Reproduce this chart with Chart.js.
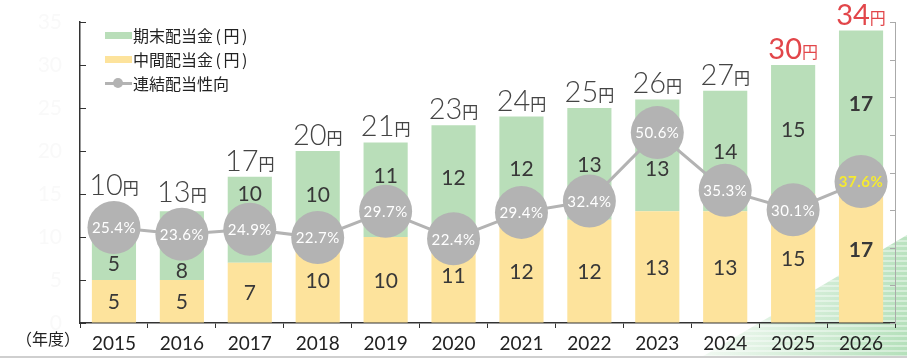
<!DOCTYPE html>
<html>
<head>
<meta charset="utf-8">
<script src="https://cdn.jsdelivr.net/npm/chart.js@4"></script>
<style>
  body { margin: 0; background: #fff; }
  #wrap { position: relative; width: 907px; height: 358px; overflow: hidden; font-family: 'Lato', 'Noto Sans CJK JP', sans-serif; }
  /* green stripe decoration bottom right */
  #deco { position: absolute; left: 0; top: 0; width: 907px; height: 358px;
    clip-path: polygon(700px 358px, 907px 358px, 907px 235px);
    background: repeating-linear-gradient(180deg, rgba(255,255,255,0.4) 0 2px, rgba(255,255,255,0) 2px 5px),
                linear-gradient(100deg, rgba(210,238,214,0) 0%, rgba(210,238,214,0) 74%, #b4e0ba 100%); }
  #bottomline { position: absolute; left: 0; bottom: 0; width: 907px; height: 2px; background: #cfcfcf; }
  canvas { position: absolute; left: 0; top: 0; }
  .legend { position: absolute; left: 105px; top: 23px; font-size: 16px; color: #222; font-family: 'Noto Sans CJK JP', sans-serif; }
  .legend div { height: 24px; display: flex; align-items: center; }
  .legend .p { margin: 0 2.5px; }
  .legend .box { width: 27px; height: 7px; margin-right: 1px; }
  .legend .ln { position: relative; width: 27px; height: 3px; background: #b3b3b3; margin-right: 1px; }
  .legend .ln::after { content: ''; position: absolute; left: 8px; top: -3.5px; width: 10px; height: 10px; border-radius: 50%; background: #b3b3b3; }
  .unit { position: absolute; left: 16px; top: 326px; font-size: 16px; color: #222; font-family: 'Noto Sans CJK JP', sans-serif; }
</style>
</head>
<body>
<div id="wrap">
  <div id="deco"></div>
  <div id="bottomline"></div>
  <canvas id="chart" width="907" height="358"></canvas>
  <div class="legend">
    <div><span class="box" style="background:#b9deb9"></span>期末配当金<span class="p">(</span>円<span class="p">)</span></div>
    <div><span class="box" style="background:#fde39c"></span>中間配当金<span class="p">(</span>円<span class="p">)</span></div>
    <div><span class="ln"></span>連結配当性向</div>
  </div>
  <div class="unit">（年度）</div>
</div>
<script>
// fiscal years
const years = ['2015', '2016', '2017', '2018', '2019', '2020', '2021', '2022', '2023', '2024', '2025', '2026'];
// interim dividend (yen)
const interim = [5, 5, 7, 10, 10, 11, 12, 12, 13, 13, 15, 17];
// year-end dividend (yen)
const yearEnd = [5, 8, 10, 10, 11, 12, 12, 13, 13, 14, 15, 17];
// consolidated payout ratio (%)
const payout = [25.4, 23.6, 24.9, 22.7, 29.7, 22.4, 29.4, 32.4, 50.6, 35.3, 30.1, 37.6];
// forecast years get the red total label
const forecast = ['2025', '2026'];

const GREEN = '#b9deb9';
const YELLOW = '#fde39c';
const GRAY = '#b3b3b3';
const R = 26.5;
const f = (s, w) => (w || '300') + ' ' + s + 'px Lato, "Noto Sans CJK JP"';

const labelPlugin = {
  id: 'labels',
  afterDraw(chart) {
    const ctx = chart.ctx;
    const y = chart.scales.y;
    const y1 = chart.scales.y1;
    const area = chart.chartArea;

    // inward tick marks on both y axes
    ctx.save();
    ctx.strokeStyle = '#333';
    ctx.lineWidth = 1;
    y.ticks.forEach(t => {
      const py = Math.round(y.getPixelForValue(t.value)) + 0.5;
      ctx.beginPath(); ctx.moveTo(area.left, py); ctx.lineTo(area.left + 6, py); ctx.stroke();
    });
    ctx.strokeStyle = '#aaa';
    y1.ticks.forEach(t => {
      const py = Math.round(y1.getPixelForValue(t.value)) + 0.5;
      ctx.beginPath(); ctx.moveTo(area.right - 5, py); ctx.lineTo(area.right, py); ctx.stroke();
    });

    const metaY = chart.getDatasetMeta(0);
    const metaG = chart.getDatasetMeta(1);
    const metaL = chart.getDatasetMeta(2);

    ctx.textAlign = 'center';
    ctx.textBaseline = 'middle';
    years.forEach((yr, i) => {
      const cx = metaY.data[i].x;
      const cy = metaL.data[i].y;
      const bold = i === years.length - 1;
      ctx.fillStyle = '#383838';
      ctx.font = f(21, bold ? 'bold' : '400');

      // segment labels, moved clear of the payout circle if needed
      const segs = [[metaY.data[i], interim[i]], [metaG.data[i], yearEnd[i]]];
      segs.forEach(([bar, v]) => {
        let c = (bar.y + bar.base) / 2;
        if (Math.abs(c - cy) < 34) c = c < cy ? cy - 36 : cy + 36;
        ctx.fillText(String(v), cx, c + 1);
      });

      // total label on top
      const total = interim[i] + yearEnd[i];
      const top = Math.min(metaG.data[i].y, cy - R);
      const red = forecast.includes(yr);
      ctx.fillStyle = red ? '#e2464a' : '#444';
      ctx.textBaseline = 'alphabetic';
      ctx.font = f(29, red ? '400' : '300');
      const num = String(total);
      const wn = ctx.measureText(num).width;
      ctx.font = '16px "Noto Sans CJK JP"';
      const wy = ctx.measureText('円').width;
      const x0 = cx - (wn + wy) / 2;
      ctx.textAlign = 'left';
      ctx.font = f(29, red ? '400' : '300');
      ctx.fillText(num, x0, top - 6);
      ctx.font = '16px "Noto Sans CJK JP"';
      ctx.fillText('円', x0 + wn, top - 7);
      ctx.textAlign = 'center';
      ctx.textBaseline = 'middle';

      // payout ratio in the circle
      ctx.fillStyle = bold ? '#f5ea30' : '#fff';
      ctx.font = f(15, bold ? 'bold' : '400');
      ctx.letterSpacing = '0.5px';
      ctx.fillText(payout[i].toFixed(1) + '%', cx, cy + 1);
      ctx.letterSpacing = '0px';
    });
    ctx.restore();
  }
};

new Chart(document.getElementById('chart'), {
  type: 'bar',
  data: {
    labels: years,
    datasets: [
      { label: '中間配当金(円)', data: interim, backgroundColor: YELLOW, stack: 's', yAxisID: 'y', order: 2 },
      { label: '期末配当金(円)', data: yearEnd, backgroundColor: GREEN, stack: 's', yAxisID: 'y', order: 2 },
      {
        type: 'line', label: '連結配当性向', data: payout, yAxisID: 'y1', order: 1,
        borderColor: GRAY, borderWidth: 3, pointRadius: R, pointBackgroundColor: GRAY,
        pointBorderWidth: 0, pointHoverRadius: R, clip: false
      }
    ]
  },
  options: {
    responsive: false,
    animation: false,
    layout: { autoPadding: false, padding: { top: 22, left: 0, right: 0, bottom: 0 } },
    datasets: { bar: { barPercentage: 0.65, categoryPercentage: 1 } },
    plugins: { legend: { display: false }, tooltip: { enabled: false } },
    scales: {
      x: {
        stacked: true,
        offset: true,
        grid: { offset: true, drawOnChartArea: false, tickLength: 5, color: '#333' },
        border: { color: '#333', width: 1.5 },
        ticks: { color: '#222', font: { size: 19, family: 'Lato' }, padding: 4, maxRotation: 0 },
        afterFit(s) { s.height = 35; s.paddingLeft = 0; s.paddingRight = 0; }
      },
      y: {
        stacked: true,
        position: 'left',
        min: 0, max: 35,
        ticks: { stepSize: 5, color: '#f9f9f9', padding: 18, font: { size: 21, family: 'Lato' } },
        grid: { drawOnChartArea: false, drawTicks: false },
        border: { color: '#333', width: 1.5 },
        afterFit(s) { s.width = 80; s.paddingTop = 0; s.paddingBottom = 0; }
      },
      y1: {
        position: 'right',
        min: 0, max: 80,
        ticks: { stepSize: 10, display: false },
        grid: { drawOnChartArea: false, drawTicks: false },
        border: { color: '#aaa', width: 1 },
        afterFit(s) { s.width = 12; s.paddingTop = 0; s.paddingBottom = 0; }
      }
    }
  },
  plugins: [labelPlugin]
});
</script>
</body>
</html>
